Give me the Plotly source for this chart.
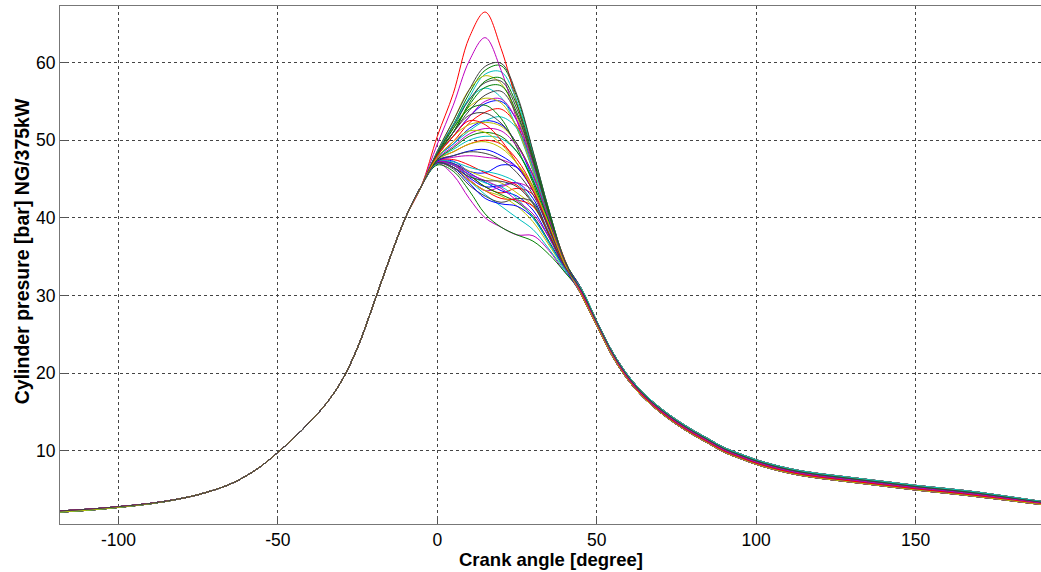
import plotly.graph_objects as go

# Crank angles [deg] of the shared compression stroke samples
compression_angles = [-120, -115, -110, -105, -100, -95, -90, -85, -80, -75, -70, -65,
                      -60, -55, -50, -45, -40, -35, -30, -25, -20, -15, -10, -5]
# Two slightly different motoring traces (the thin band at the start of the stroke)
compression_upper = [2.21, 2.33, 2.46, 2.61, 2.80, 2.99, 3.22, 3.51, 3.88, 4.35, 4.95, 5.70,
                     6.75, 8.10, 9.80, 11.65, 13.7, 16.0, 19.0, 23.3, 28.9, 34.7, 40.0, 44.1]
compression_lower = [2.06, 2.19, 2.33, 2.51, 2.71, 2.93, 3.18, 3.49, 3.88, 4.35, 4.95, 5.70,
                     6.75, 8.10, 9.80, 11.65, 13.7, 16.0, 19.0, 23.3, 28.9, 34.7, 40.0, 44.1]

# Crank angles [deg] of the combustion window, sampled per cycle
combustion_angles = [0, 5, 10, 15, 20, 25, 30, 35, 40]

blue_cycles = [
    [48.0, 50.5, 53.0, 54.7, 55.0, 52.5, 46.5, 40.0, 34.3],
    [47.8, 49.5, 51.5, 52.5, 52.0, 49.5, 45.0, 39.5, 34.2],
    [47.2, 47.3, 46.0, 45.8, 46.8, 46.5, 44.0, 39.0, 34.0],
    [47.0, 46.8, 45.2, 44.0, 44.2, 44.5, 42.5, 38.0, 33.8],
    [47.1, 47.0, 45.8, 44.6, 43.5, 42.8, 41.0, 37.5, 33.6],
    [47.3, 48.0, 48.6, 48.8, 48.0, 46.5, 43.5, 38.8, 34.0],
    [47.0, 46.5, 44.5, 42.5, 41.8, 41.5, 40.0, 36.8, 33.5],
]
green_cycles = [
    [48.5, 52.0, 56.0, 59.0, 59.6, 55.5, 48.5, 41.0, 34.5],
    [48.2, 51.0, 54.8, 57.6, 58.0, 54.5, 48.0, 40.8, 34.4],
    [48.0, 51.0, 54.5, 56.8, 57.0, 53.5, 47.5, 40.5, 34.3],
    [48.2, 51.5, 54.0, 54.5, 52.8, 49.0, 44.5, 39.2, 34.0],
    [46.8, 46.0, 43.5, 40.5, 38.8, 37.8, 37.0, 35.3, 33.0],
    [47.0, 46.8, 45.5, 44.0, 43.0, 42.0, 40.2, 37.0, 33.5],
    [47.5, 49.0, 50.5, 51.0, 50.5, 48.5, 44.8, 39.5, 34.0],
]
red_cycles = [
    [50.5, 56.0, 63.2, 66.5, 61.8, 54.7, 47.6, 40.6, 34.6],
    [47.8, 49.8, 52.2, 53.6, 54.0, 51.8, 46.5, 40.0, 34.3],
    [47.2, 47.0, 45.5, 44.0, 43.2, 43.8, 43.0, 38.5, 33.8],
    [47.3, 47.5, 46.8, 45.8, 45.0, 44.2, 42.0, 38.0, 33.8],
    [47.5, 48.5, 49.5, 50.0, 49.5, 47.5, 44.0, 39.0, 34.0],
    [47.0, 46.5, 44.8, 43.5, 42.5, 42.3, 41.5, 38.0, 33.6],
    [48.0, 50.5, 52.5, 52.0, 50.0, 47.0, 43.5, 39.0, 34.0],
]
cyan_cycles = [
    [48.3, 51.5, 55.5, 58.5, 58.8, 55.0, 48.3, 41.0, 34.5],
    [48.5, 52.0, 55.3, 56.7, 55.5, 51.5, 46.0, 40.0, 34.3],
    [47.8, 49.5, 51.2, 52.5, 53.0, 51.5, 46.5, 40.0, 34.2],
    [47.0, 46.5, 44.8, 43.0, 41.5, 40.0, 38.5, 36.0, 33.2],
    [47.2, 47.2, 46.5, 46.0, 45.5, 44.5, 42.0, 38.2, 33.8],
    [47.5, 48.8, 50.0, 50.5, 50.2, 48.5, 45.0, 39.5, 34.0],
    [47.0, 46.8, 45.5, 44.5, 44.0, 42.5, 40.0, 36.8, 33.4],
]
magenta_cycles = [
    [49.5, 54.5, 60.2, 63.2, 59.0, 52.5, 46.0, 39.8, 34.3],
    [48.0, 50.5, 53.0, 55.0, 55.3, 52.5, 47.0, 40.2, 34.3],
    [47.0, 45.5, 42.5, 40.0, 38.8, 37.8, 37.7, 35.8, 33.0],
    [47.3, 47.8, 48.0, 47.8, 47.5, 46.5, 43.5, 38.8, 34.0],
    [47.2, 46.8, 45.0, 43.5, 44.0, 44.5, 43.5, 39.0, 33.9],
    [47.6, 49.2, 50.8, 51.5, 51.2, 49.2, 45.5, 39.8, 34.1],
    [47.1, 46.8, 45.6, 44.8, 43.8, 42.2, 40.5, 37.5, 33.6],
]
yellow_cycles = [
    [48.6, 52.5, 56.5, 58.3, 57.3, 53.0, 47.0, 40.5, 34.4],
    [48.3, 51.5, 54.3, 55.4, 54.8, 51.5, 46.2, 40.0, 34.3],
    [48.0, 50.5, 52.0, 52.3, 51.8, 49.5, 45.5, 39.8, 34.1],
    [47.2, 47.0, 46.0, 45.2, 44.5, 43.2, 41.5, 38.0, 33.7],
    [47.5, 48.5, 49.5, 49.8, 49.0, 47.0, 44.0, 39.0, 34.0],
    [47.0, 46.5, 44.8, 43.5, 42.8, 41.5, 39.5, 36.5, 33.4],
    [47.8, 49.8, 51.2, 51.0, 49.5, 47.0, 43.8, 39.2, 34.0],
]
gray_cycles = [
    [48.6, 52.5, 56.5, 59.5, 59.9, 55.8, 48.6, 41.0, 34.5],
    [48.4, 51.8, 55.2, 57.4, 57.6, 54.0, 47.8, 40.6, 34.4],
    [48.2, 51.0, 53.8, 55.8, 56.3, 53.2, 47.3, 40.3, 34.3],
    [48.2, 51.0, 53.2, 53.5, 52.2, 49.5, 45.5, 39.8, 34.2],
    [47.0, 46.3, 44.2, 42.8, 42.0, 42.5, 42.0, 37.8, 33.6],
    [47.4, 48.0, 48.5, 48.3, 47.5, 45.8, 43.0, 38.6, 33.9],
    [47.1, 46.5, 45.3, 44.8, 44.7, 44.0, 41.8, 37.8, 33.7],
]

# Crank angles [deg] of the shared expansion stroke samples
expansion_angles = [45, 50, 55, 60, 65, 70, 75, 80, 85, 90, 95, 100, 105, 110, 115,
                    120, 125, 130, 135, 140, 145, 150, 155, 160, 165, 170, 175, 180, 185, 190]
# Five expansion traces spanning the scatter band of the cycles
expansion_a = [31.00, 26.70, 22.70, 19.60, 17.30, 15.50, 14.00, 12.70, 11.55, 10.40, 9.60, 8.85,
               8.25, 7.75, 7.35, 7.05, 6.80, 6.55, 6.30, 6.05, 5.80, 5.55, 5.33, 5.12, 4.90,
               4.65, 4.35, 4.05, 3.75, 3.45]
expansion_b = [30.80, 26.55, 22.55, 19.45, 17.15, 15.35, 13.85, 12.55, 11.40, 10.25, 9.45, 8.70,
               8.10, 7.60, 7.20, 6.90, 6.65, 6.40, 6.15, 5.90, 5.65, 5.40, 5.18, 4.97, 4.75,
               4.50, 4.22, 3.92, 3.63, 3.35]
expansion_c = [30.60, 26.40, 22.40, 19.30, 17.00, 15.20, 13.70, 12.40, 11.25, 10.10, 9.30, 8.55,
               7.95, 7.45, 7.05, 6.75, 6.50, 6.25, 6.00, 5.75, 5.50, 5.25, 5.03, 4.82, 4.60,
               4.35, 4.08, 3.80, 3.52, 3.25]
expansion_d = [30.40, 26.25, 22.25, 19.15, 16.85, 15.05, 13.55, 12.25, 11.10, 9.95, 9.15, 8.40,
               7.80, 7.30, 6.90, 6.60, 6.35, 6.10, 5.85, 5.60, 5.35, 5.10, 4.88, 4.67, 4.45,
               4.20, 3.94, 3.68, 3.41, 3.15]
expansion_e = [30.20, 26.10, 22.10, 19.00, 16.70, 14.90, 13.40, 12.10, 10.95, 9.80, 9.00, 8.25,
               7.65, 7.15, 6.75, 6.45, 6.20, 5.95, 5.70, 5.45, 5.20, 4.95, 4.73, 4.52, 4.30,
               4.05, 3.81, 3.56, 3.30, 3.05]

x_ticks = [-100, -50, 0, 50, 100, 150]
x_tick_labels = ["-100", "-50", "0", "50", "100", "150"]
y_ticks = [10, 20, 30, 40, 50, 60]

# MATLAB-style colour order
color_groups = [
    ("rgb(0,0,255)", blue_cycles),
    ("rgb(0,128,0)", green_cycles),
    ("rgb(255,0,0)", red_cycles),
    ("rgb(0,191,191)", cyan_cycles),
    ("rgb(191,0,191)", magenta_cycles),
    ("rgb(191,191,0)", yellow_cycles),
    ("rgb(64,64,64)", gray_cycles),
]
compression_profiles = [compression_upper, compression_lower]
expansion_profiles = [expansion_a, expansion_c, expansion_e, expansion_b, expansion_d]

fig = go.Figure()
n_per_group = len(blue_cycles)
k = 0
for row in range(n_per_group):
    for color, cycles in color_groups:
        comp = compression_profiles[k % len(compression_profiles)]
        expn = expansion_profiles[k % len(expansion_profiles)]
        fig.add_trace(go.Scatter(
            x=compression_angles + combustion_angles + expansion_angles,
            y=comp + cycles[row] + expn,
            mode="lines",
            line=dict(color=color, width=1, shape="spline", smoothing=1),
            showlegend=False,
            hoverinfo="skip",
        ))
        k += 1

tick_font = dict(family="Liberation Sans, Arial, sans-serif", size=17.5, color="#000")
fig.update_layout(
    width=1041, height=572,
    margin=dict(l=60, r=0, t=6, b=48),
    paper_bgcolor="white", plot_bgcolor="white",
    font=tick_font,
    xaxis=dict(
        range=[-118.35, 189.35], tickvals=x_ticks, ticktext=x_tick_labels,
        showgrid=True, gridcolor="#444", griddash="dot", gridwidth=1,
        showline=True, linecolor="#777", linewidth=1, mirror=True,
        ticks="inside", ticklen=8, tickcolor="#555",
        zeroline=False, tickfont=tick_font,
    ),
    yaxis=dict(
        range=[0.57, 67.28], tickvals=y_ticks,
        showgrid=True, gridcolor="#444", griddash="dot", gridwidth=1,
        showline=True, linecolor="#777", linewidth=1,
        ticks="inside", ticklen=8, tickcolor="#555",
        zeroline=False, tickfont=tick_font,
    ),
    annotations=[
        dict(text="<b>Crank angle [degree]</b>", xref="paper", yref="paper",
             x=0.5, y=-0.068, xanchor="center", yanchor="middle", showarrow=False,
             font=dict(family="Liberation Sans, Arial, sans-serif", size=18.5, color="#000")),
        dict(text="<b>Cylinder presure [bar] NG/375kW</b>", xref="paper", yref="paper",
             x=-0.039, y=0.526, xanchor="center", yanchor="middle", showarrow=False,
             textangle=-90,
             font=dict(family="Liberation Sans, Arial, sans-serif", size=19.5, color="#000")),
    ],
)

fig.write_html("out.html")
